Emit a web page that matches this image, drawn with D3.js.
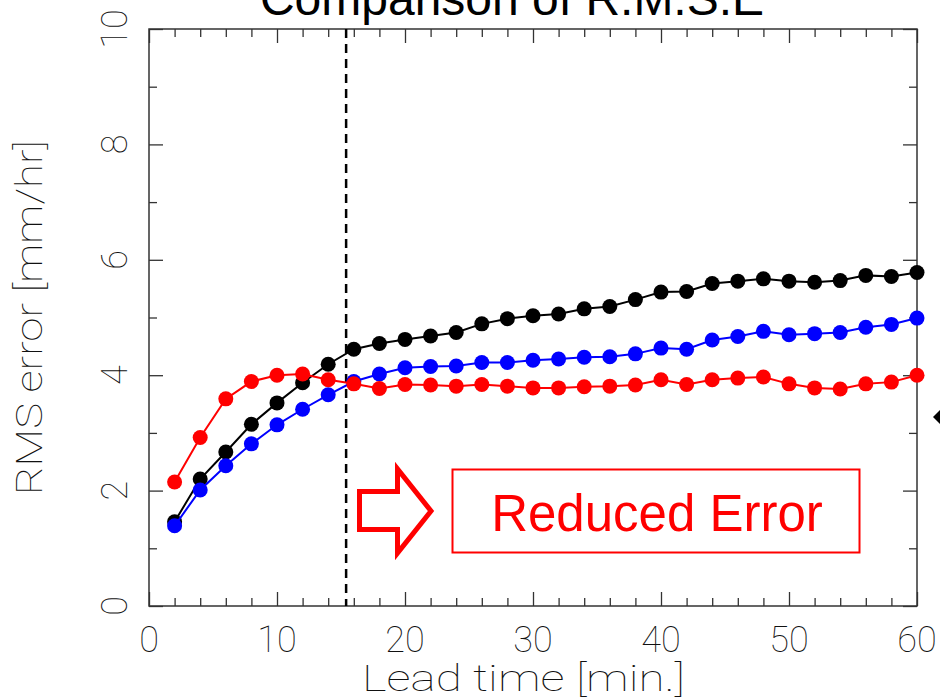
<!DOCTYPE html>
<html>
<head>
<meta charset="utf-8">
<script src="https://cdn.jsdelivr.net/npm/d3@7"></script>
<style>
  body { margin: 0; background: #fff; }
  svg { display: block; }
  .thin { font-family: Roboto, "DejaVu Sans", sans-serif; font-weight: 100; fill: #111; }
</style>
</head>
<body>
<svg width="940" height="700"></svg>
<script>
// lead time (min) and RMS error (mm/hr) of the three runs
const leadTime = [2,4,6,8,10,12,14,16,18,20,22,24,26,28,30,32,34,36,38,40,42,44,46,48,50,52,54,56,58,60];
const blackRms = [1.46,2.20,2.67,3.15,3.52,3.87,4.19,4.45,4.55,4.62,4.68,4.74,4.89,4.98,5.03,5.06,5.15,5.19,5.31,5.44,5.45,5.59,5.63,5.67,5.63,5.61,5.64,5.73,5.71,5.78];
const blueRms  = [1.39,2.01,2.43,2.81,3.14,3.41,3.66,3.89,4.02,4.13,4.15,4.16,4.22,4.22,4.26,4.28,4.31,4.32,4.37,4.47,4.45,4.61,4.67,4.76,4.70,4.72,4.74,4.83,4.88,4.99];
const redRms   = [2.15,2.92,3.59,3.89,4.00,4.02,3.92,3.85,3.77,3.84,3.83,3.81,3.84,3.81,3.78,3.78,3.80,3.81,3.83,3.92,3.84,3.92,3.95,3.97,3.85,3.78,3.76,3.85,3.88,4.00];
const seriesColors = ['#000000','#0000ff','#ff0000'];
const xMajor = [0,10,20,30,40,50,60];
const xMinor = [2,4,6,8,12,14,16,18,22,24,26,28,32,34,36,38,42,44,46,48,52,54,56,58];
const yMajor = [0,2,4,6,8,10];
const yMinor = [1,3,5,7,9];
const cutoff = 15.4;

//Dimensions layout
const margin = {top: 29, right: 23, bottom: 94, left: 149};
const width = 940 - margin.left - margin.right;
const height = 700 - margin.top - margin.bottom;

const svg = d3.select('svg');

//Title (cut off at the top)
svg.append('text')
    .attr('x', 512).attr('y', 15)
    .attr('text-anchor', 'middle')
    .style('font-family', '"Liberation Sans", Arial, sans-serif')
    .style('font-size', '48px')
    .attr('fill', '#000')
    .text('Comparison of R.M.S.E');

const chart = svg.append('g')
    .attr('transform', 'translate(' + margin.left + ',' + margin.top + ')');

//Scales
const xScale = d3.scaleLinear().domain([0, 60]).range([0, width]);
const yScale = d3.scaleLinear().domain([0, 10]).range([height, 0]);

//Axes: inward ticks on all four sides
function ticks(axis, values, size, tx, ty) {
    const g = chart.append('g')
        .attr('transform', 'translate(' + tx + ',' + ty + ')')
        .call(axis.tickValues(values).tickSize(-size).tickFormat(''));
    g.select('.domain').remove();
    g.selectAll('line').attr('stroke', '#333').attr('stroke-width', 1.3);
}
ticks(d3.axisBottom(xScale), xMajor, 14, 0, height);
ticks(d3.axisBottom(xScale), xMinor, 8, 0, height);
ticks(d3.axisTop(xScale), xMajor, 14, 0, 0);
ticks(d3.axisTop(xScale), xMinor, 8, 0, 0);
ticks(d3.axisLeft(yScale), yMajor, 14, 0, 0);
ticks(d3.axisLeft(yScale), yMinor, 8, 0, 0);
ticks(d3.axisRight(yScale), yMajor, 14, width, 0);
ticks(d3.axisRight(yScale), yMinor, 8, width, 0);

chart.append('rect')
    .attr('width', width).attr('height', height)
    .attr('fill', 'none').attr('stroke', '#333').attr('stroke-width', 1.5);

//Tick labels
chart.selectAll('.xlab')
    .data(xMajor)
    .join('text')
    .attr('class', 'thin')
    .attr('x', d => xScale(d))
    .attr('y', height + 46)
    .attr('text-anchor', 'middle')
    .style('font-size', '36px')
    .text(d => d);

chart.selectAll('.ylab')
    .data(yMajor)
    .join('text')
    .attr('class', 'thin')
    .attr('transform', d => 'translate(-22,' + yScale(d) + ') rotate(-90)')
    .attr('text-anchor', 'middle')
    .style('font-size', '36px')
    .text(d => d);

//Axis titles
chart.append('text')
    .attr('class', 'thin')
    .attr('x', xScale(30) - 9.5).attr('y', height + 85)
    .attr('text-anchor', 'middle')
    .style('font-size', '36px')
    .attr('textLength', 323).attr('lengthAdjust', 'spacingAndGlyphs')
    .text('Lead time [min.]');

chart.append('text')
    .attr('class', 'thin')
    .attr('transform', 'translate(' + (-107) + ',' + yScale(5.0) + ') rotate(-90)')
    .attr('text-anchor', 'middle')
    .style('font-size', '36px')
    .attr('textLength', 355).attr('lengthAdjust', 'spacingAndGlyphs')
    .text('RMS error [mm/hr]');

//Dashed cut-off line
chart.append('line')
    .attr('x1', xScale(cutoff)).attr('x2', xScale(cutoff))
    .attr('y1', 0).attr('y2', height)
    .attr('stroke', '#000').attr('stroke-width', 2.5)
    .attr('stroke-dasharray', '9,6');

//Lines + markers
const line = d3.line()
    .x((d, i) => xScale(leadTime[i]))
    .y(d => yScale(d));

[blackRms, blueRms, redRms].forEach((vals, k) => {
    const g = chart.append('g');
    g.append('path')
        .attr('d', line(vals))
        .attr('fill', 'none')
        .attr('stroke', seriesColors[k])
        .attr('stroke-width', 2);
    g.selectAll('circle')
        .data(vals)
        .join('circle')
        .attr('cx', (d, i) => xScale(leadTime[i]))
        .attr('cy', d => yScale(d))
        .attr('r', 7.5)
        .attr('fill', seriesColors[k]);
});

//Annotation: hollow arrow and boxed label
svg.append('path')
    .attr('d', 'M359.5,491.5 L397.5,491.5 L397.5,469 L431,511 L397.5,553 L397.5,529.5 L359.5,529.5 Z')
    .attr('fill', '#fff')
    .attr('stroke', '#ff0000')
    .attr('stroke-width', 5)
    .attr('stroke-linejoin', 'miter');

svg.append('rect')
    .attr('x', 452.5).attr('y', 469.5)
    .attr('width', 407).attr('height', 83)
    .attr('fill', '#fff')
    .attr('stroke', '#ff0000').attr('stroke-width', 2);

svg.append('text')
    .attr('x', 657).attr('y', 531)
    .attr('text-anchor', 'middle')
    .style('font-family', '"Liberation Sans", Arial, sans-serif')
    .style('font-size', '51px')
    .attr('fill', '#ff0000')
    .text('Reduced Error');

//Partial black marker at the right edge
svg.append('path')
    .attr('d', 'M933,417 L942,408 L942,426 Z')
    .attr('fill', '#000');
</script>
</body>
</html>
